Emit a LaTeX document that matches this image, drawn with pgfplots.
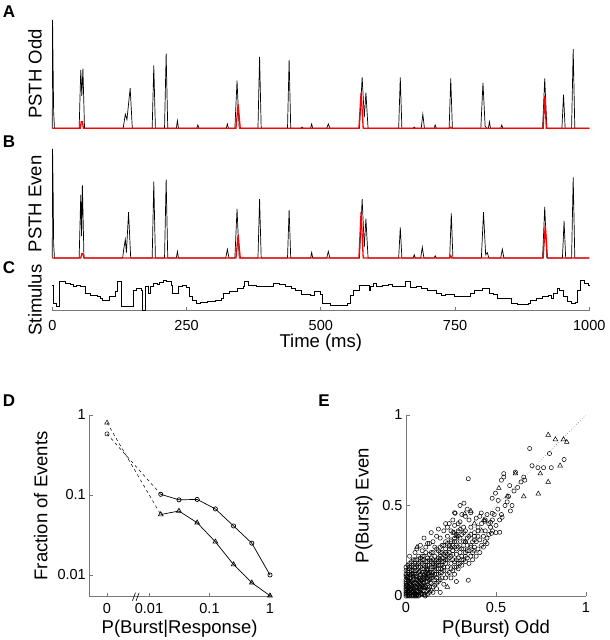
\documentclass[border=0pt]{standalone}
\usepackage{pgfplots}
\pgfplotsset{compat=1.18}
\usepackage{fontspec}
\setmainfont{Liberation Sans}
\definecolor{axgray}{RGB}{120,120,120}
\pgfplotsset{
  every axis/.append style={scale only axis, anchor=south west,
    tick label style={font=\fontsize{14.5}{16}\selectfont},
    label style={font=\fontsize{18.5}{20}\selectfont},
    axis line style={axgray, line width=0.8pt},
    tick style={axgray, line width=0.8pt},
    major tick length=4pt,
    /pgf/number format/assume math mode=true},
}
\begin{document}
\begin{tikzpicture}
\path[use as bounding box] (0,0) rectangle (610pt,640pt);
% ---------- A ----------
\begin{axis}[at={(52.3pt,511.7pt)}, width=537pt, height=108.3pt,
  xmin=0, xmax=1000, ymin=0, ymax=1, hide axis, clip=false]
\addplot[black, line width=0.7pt] coordinates {
(0,0)(0.5,1.0)(1.5,0.56)(2.5,0.15)(4,0)
(50,0)(53,0.54)(55,0.3)(57,0.55)(60,0)
(132,0)(136,0.13)(139,0.08)(145,0.37)(149,0)
(186,0)(189,0.58)(192,0)
(209,0)(212,0.69)(215,0)
(231,0)(233,0.07)(235,0)
(269,0)(271,0.03)(273,0)
(324,0)(326,0.04)(328,0)
(340,0)(344,0.44)(348,0)
(383,0)(386,0.66)(389,0)
(438,0)(441,0.63)(444,0)
(463,0)(465,0.01)(467,0)
(481,0)(483,0.04)(485,0)
(511,0)(514,0.04)(517,0)
(572,0)(577,0.47)(581,0.1)(584,0.33)(588,0)
(645,0)(648,0.47)(651,0)
(672,0)(674,0.01)(676,0)
(687,0)(690,0.13)(693,0)
(711,0)(713,0.03)(715,0)
(739,0)(742,0.46)(745,0)
(798,0)(802,0.42)(806,0.02)(809,0)(812,0)(814,0.06)(816,0)
(835,0)(837,0.03)(839,0)
(913,0)(917,0.46)(921,0)
(949,0)(952,0.31)(955,0)
(967,0)(970,0.73)(973,0)
(1000,0)};
\addplot[red, line width=1.3pt] coordinates {
(0,0)(52,0)(54,0.06)(56,0.06)(58,0)(342,0)(346,0.22)(350,0)(571,0)(575,0.33)(579,0)
(740,0)(742,0.01)(744,0)(914,0)(917,0.3)(920,0)(1000,0)};
\end{axis}
% ---------- B ----------
\begin{axis}[at={(52.3pt,382pt)}, width=537pt, height=109pt,
  xmin=0, xmax=1000, ymin=0, ymax=1, hide axis, clip=false]
\addplot[black, line width=0.7pt] coordinates {
(0,0)(0.5,1.0)(1.5,0.64)(2.5,0.13)(4,0)
(50,0)(53,0.58)(54.5,0.2)(56,0.67)(59,0)
(131,0)(133,0.08)(136,0.17)(138,0.05)(142,0.42)(146,0)
(186,0)(189,0.7)(192,0)
(209,0)(212,0.72)(215,0)
(231,0)(233,0.06)(235,0)
(323,0)(326,0.08)(329,0)
(340,0)(344,0.45)(348,0)
(383,0)(386,0.54)(389,0)
(438,0)(441,0.44)(444,0)
(481,0)(483,0.05)(485,0)
(511,0)(514,0.06)(517,0)
(572,0)(577,0.54)(581,0.1)(584,0.36)(588,0)
(645,0)(648,0.28)(651,0)
(672,0)(674,0.03)(676,0)
(686,0)(689,0.1)(692,0)
(711,0)(713,0.02)(715,0)
(740,0)(743,0.41)(746,0)
(799,0)(803,0.42)(807,0.03)(810,0.05)(813,0)
(835,0)(838,0.08)(841,0)
(913,0)(917,0.47)(921,0)
(950,0)(953,0.34)(956,0)
(967,0)(970,0.74)(973,0)
(1000,0)};
\addplot[red, line width=1.3pt] coordinates {
(0,0)(53,0)(55,0.04)(57,0.04)(59,0)(342,0)(346,0.21)(350,0)(571,0)(575,0.42)(579,0)
(740,0)(742,0.02)(744,0)(914,0)(918,0.3)(922,0)(1000,0)};
\end{axis}
% ---------- C ----------
\begin{axis}[at={(52.3pt,329.3pt)}, width=537pt, height=30.7pt,
  xmin=0, xmax=1000, ymin=0, ymax=92, clip=false,
  axis x line*=bottom, axis y line=none,
  xtick={0,250,500,750,1000}, xticklabels={0,250,500,750,1000},
  xticklabel style={yshift=-6pt},
  xlabel={Time (ms)}, xlabel style={yshift=3pt}]
\addplot[const plot, black, line width=0.6pt] coordinates {
(0,77)(2,22)(7,12)(13,87)(24,82)(33,80)(40,74)(45,77)(52,72)(61,52)(70,47)(83,44)
(89,37)(94,30)(104,32)(107,42)(117,57)(121,87)(129,12)(151,62)(157,67)(165,62)
(168,0)(173,72)(179,52)(183,72)(188,82)(195,80)(199,86)(206,92)(213,87)(221,77)
(224,52)(235,72)(242,75)(250,70)(255,42)(260,32)(268,22)(275,25)(289,27)(304,32)
(315,37)(318,52)(329,57)(344,67)(355,74)(358,87)(365,77)(380,72)(409,74)(412,82)
(423,80)(434,74)(445,67)(452,62)(463,50)(481,47)(488,57)(499,50)(503,22)(517,17)
(550,22)(554,47)(561,62)(572,77)(590,62)(593,74)(597,82)(604,72)(615,77)(626,79)
(633,72)(644,74)(658,87)(666,70)(677,72)(687,67)(698,60)(705,62)(716,52)(724,47)
(731,50)(749,42)(778,52)(785,60)(800,67)(814,52)(821,49)(828,37)(854,22)(865,19)
(886,22)(890,32)(901,37)(912,42)(923,47)(930,37)(933,52)(941,67)(944,62)(952,42)
(959,27)(966,22)(973,25)(977,62)(984,92)(991,82)(999,77)(1000,77)};
\end{axis}
% ---------- D ----------
\begin{axis}[at={(89.3pt,43.3pt)}, width=180.7pt, height=181.7pt,
  xmin=-2.987, xmax=0, ymode=log, ymin=0.00535, ymax=1, clip=false,
  axis x line*=bottom, axis y line*=left,
  xtick={-2.694,-2,-1,0}, xticklabels={0,0.01,0.1,1},
  xticklabel style={yshift=-3pt},
  ytick={0.01,0.1,1}, yticklabels={0.01,0.1,1}, minor tick num=0,
  log basis y=10, ylabel shift=3pt,
  xlabel={P(Burst\textbar Response)}, ylabel={Fraction of Events}]
\addplot[black, dashed, line width=0.5pt] coordinates {(-2.694,0.58)(-1.806,0.102)};
\addplot[black, dashed, line width=0.5pt] coordinates {(-2.694,0.80)(-1.806,0.057)};
\addplot[black, line width=0.7pt, mark=o, mark size=2.1pt, mark options={solid}] coordinates {
(-1.806,0.102)(-1.505,0.087)(-1.204,0.088)(-0.903,0.067)(-0.602,0.041)(-0.301,0.025)(0,0.010)};
\addplot[black, line width=0.7pt, mark=triangle, mark size=2.7pt, mark options={solid}] coordinates {
(-1.806,0.057)(-1.505,0.063)(-1.204,0.045)(-0.903,0.026)(-0.602,0.0135)(-0.301,0.0080)(0,0.0055)};
\addplot[only marks, mark=o, mark size=2.1pt, black, line width=0.5pt] coordinates {(-2.694,0.58)};
\addplot[only marks, mark=triangle, mark size=2.7pt, black, line width=0.5pt] coordinates {(-2.694,0.80)};
\draw[black, line width=0.6pt] (axis cs:-2.24,0.00535) ++(-2pt,-4pt) -- ++(3pt,8pt);
\draw[black, line width=0.6pt] (axis cs:-2.18,0.00535) ++(-2pt,-4pt) -- ++(3pt,8pt);
\end{axis}
% ---------- E ----------
\begin{axis}[at={(406pt,44pt)}, width=180pt, height=181pt,
  xmin=0, xmax=1, ymin=0, ymax=1, clip=false,
  axis x line*=bottom, axis y line*=left,
  xtick={0,0.5,1}, xticklabels={0,0.5,1}, ytick={0,0.5,1}, yticklabels={0,0.5,1},
  xticklabel style={yshift=-3pt}, ylabel shift=3pt,
  xlabel={P(Burst) Odd}, ylabel={P(Burst) Even}]
\addplot[axgray, dotted, line width=0.6pt] coordinates {(0,0)(1,1)};
\addplot[only marks, mark=o, mark size=2.1pt, black, line width=0.5pt] table {
x y
0 0
0.01 0
0.02 0.01
0 0.02
0.03 0.02
0.01 0.03
0.04 0
0.05 0.03
0.02 0.05
0 0.05
0.06 0.01
0.03 0.06
0.07 0.04
0.05 0.07
0.01 0.08
0.08 0.02
0.09 0.06
0.06 0.09
0.02 0.1
0.1 0.03
0.04 0.11
0.11 0.08
0.08 0.12
0 0.12
0.12 0.01
0.03 0.14
0.13 0.05
0.07 0.13
0.14 0.1
0.1 0.15
0.05 0.16
0.15 0.02
0.16 0.12
0.12 0.17
0.09 0.18
0.17 0.07
0.18 0.15
0.14 0.19
0.02 0.15
0.01 0.13
0 0.09
0.04 0.09
0.06 0.05
0.08 0.07
0.11 0.11
0.13 0.13
0.15 0.16
0.17 0.18
0.19 0.2
0.2 0.17
0.21 0.23
0.19 0.24
0.23 0.2
0.22 0.26
0.25 0.22
0.24 0.28
0.26 0.25
0.28 0.23
0.27 0.3
0.29 0.27
0.3 0.32
0.31 0.26
0.25 0.31
0.33 0.3
0.32 0.35
0.35 0.33
0.34 0.28
0.36 0.38
0.37 0.3
0.28 0.34
0.22 0.3
0.2 0.28
0.18 0.25
0.16 0.22
0.14 0.24
0.12 0.21
0.1 0.2
0.08 0.19
0.06 0.17
0.07 0.22
0.09 0.25
0.05 0.2
0.04 0.14
0.11 0.27
0.13 0.29
0.15 0.3
0.17 0.33
0.19 0.32
0.21 0.36
0.23 0.38
0.25 0.36
0.27 0.39
0.29 0.4
0.24 0.4
0.3 0.41
0.32 0.38
0.26 0.35
0.2 0.21
0.21 0.14
0.23 0.16
0.22 0.1
0.24 0.13
0.25 0.18
0.26 0.14
0.27 0.19
0.28 0.16
0.29 0.21
0.3 0.18
0.31 0.22
0.32 0.2
0.33 0.24
0.34 0.21
0.35 0.25
0.36 0.22
0.38 0.27
0.37 0.24
0.39 0.3
0.4 0.26
0.41 0.31
0.42 0.28
0.43 0.33
0.44 0.36
0.45 0.32
0.38 0.35
0.4 0.38
0.42 0.4
0.46 0.4
0.47 0.38
0.48 0.42
0.44 0.42
0.45 0.45
0.41 0.44
0.39 0.43
0.35 0.42
0.33 0.44
0.31 0.45
0.3 0.5
0.27 0.46
0.34 0.48
0.36 0.46
0.18 0.12
0.19 0.09
0.16 0.06
0.14 0.03
0.17 0.04
0.12 0.08
0.1 0.1
0.09 0.13
0.07 0.1
0.05 0.12
0.03 0.08
0.02 0.03
0.01 0.06
0.04 0.04
0.06 0.03
0.09 0.01
0.11 0.05
0.13 0.09
0.15 0.13
0.01 0.01
0 0.03
0.03 0
0.02 0.07
0.07 0.02
0.05 0.05
0.08 0.04
0.04 0.07
0.12 0.15
0.16 0.19
0.18 0.21
0.2 0.24
0.22 0.22
0.24 0.24
0.26 0.28
0.28 0.3
0.02 0.18
0.03 0.12
0.01 0.1
0 0.07
0.06 0.14
0.08 0.16
0.1 0.17
0.09 0.22
0.11 0.19
0.13 0.2
0.15 0.2
0.17 0.15
0.19 0.17
0.2 0.13
0.25 0.1
0.27 0.12
0.29 0.15
0.31 0.17
0.33 0.19
0.35 0.18
0.37 0.2
0.39 0.22
0.41 0.24
0.43 0.27
0.45 0.29
0.46 0.34
0.48 0.36
0.5 0.39
0.52 0.42
0.49 0.45
0.51 0.48
0.687 0.815
0.797 0.787
0.878 0.754
0.764 0.709
0.807 0.709
0.733 0.709
0.346 0.648
0.543 0.676
0.608 0.685
0.654 0.657
0.639 0.63
0.543 0.657
0.53 0.64
0.576 0.61
0.497 0.568
0.479 0.54
0.562 0.52
0.589 0.50
0.58 0.47
0.534 0.435
0.521 0.352
0.512 0.528
0.322 0.513
0.273 0.457
0.418 0.459
0.479 0.457
0.47 0.407
0.438 0.413
0.475 0.346
0.346 0.087
0.28 0.08
0.107 0.0
0.19 0.02
0.21 0.065
0.12 0.29
0.06 0.26
0.04 0.2
0.02 0.22
0.08 0.28
0.16 0.27
0.1 0.32
0.14 0.35
0.18 0.37
0.22 0.4
0.26 0.42
0.29 0.36
0.05 0.24
0.23 0.33
0.27 0.27
0.36 0.28
0.4 0.33
0.44 0.3
0.5 0.35
0.53 0.45
0.55 0.5
0.57 0.55
0.6 0.58
0.62 0.6
0.66 0.64
0.7 0.72
0.005 0.015
0.015 0.005
0.025 0.035
0.035 0.025
0.045 0.015
0.015 0.045
0.055 0.045
0.045 0.055
0.065 0.025
0.025 0.065
0.075 0.055
0.055 0.075
0.085 0.035
0.035 0.085
0.095 0.075
0.075 0.095
0.105 0.055
0.055 0.105
0.115 0.095
0.095 0.115
0.125 0.035
0.035 0.125
0.135 0.075
0.075 0.135
0.145 0.115
0.115 0.145
0.005 0.055
0.055 0.005
0.015 0.085
0.085 0.015
0.005 0.105
0.105 0.005
0.025 0.115
0.115 0.025
0.045 0.095
0.095 0.045
0.065 0.065
0.085 0.085
0.105 0.105
0.125 0.125
0.01 0.04
0.04 0.01
0.02 0.02
0.03 0.05
0.05 0.01
0.06 0.07
0.07 0.06
0.08 0.05
0.09 0.09
0.1 0.07
0.12 0.1
0.13 0.11
0.14 0.13
0.16 0.14
0.17 0.12
0.18 0.17
0.16 0.16
0.14 0.16
0.12 0.12
0.11 0.13
0.1 0.12
0.08 0.1
0.07 0.08
0.06 0.11
0.04 0.12
0.02 0.12
0.01 0.14
0 0.14
0.03 0.16
0.05 0.14
0.07 0.16
0.09 0.15
0.11 0.16
0.13 0.17
0.15 0.18
0.17 0.2
0.19 0.22
0.21 0.19
0.23 0.23
0.22 0.18
0.2 0.19
0.18 0.19
0.16 0.17
0.14 0.21
0.12 0.19
0.1 0.22
0.08 0.21
0.06 0.2
0.04 0.17
0.02 0.16
0.13 0.23
0.15 0.24
0.17 0.26
0.19 0.27
0.21 0.28
0.23 0.29
0.25 0.3
0.27 0.32
0.29 0.33
0.31 0.34
0.33 0.36
0.24 0.21
0.26 0.2
0.28 0.2
0.3 0.24
0.32 0.26
0.34 0.25
0.36 0.27
0.38 0.31
0.2 0.1
0.18 0.08
0.16 0.09
0.14 0.07
0.12 0.05
0.1 0.01
0.13 0.02
0.15 0.05
0.17 0.1
0.19 0.13
0.21 0.16
0.23 0.12
0.25 0.15
0.27 0.16
0.29 0.18
0.31 0.2
0.33 0.22
0.22 0.24
0.24 0.26
0.26 0.23
0.28 0.26
0.3 0.28
0.32 0.3
0.34 0.32
0.36 0.34
0.38 0.33
0.4 0.36
0.11 0.24
0.09 0.2
0.07 0.18
0.05 0.18
0.03 0.19
0.01 0.17
0 0.16
0 0.11
0 0.01
0 0.04
0 0.06
0 0.08
0.01 0.11
0.01 0.02
0.02 0
0.05 0
0.07 0
0.08 0.01
0.06 0
};
\addplot[only marks, mark=triangle, mark size=2.7pt, black, line width=0.5pt] table {
x y
0.79 0.89
0.83 0.865
0.875 0.865
0.893 0.85
0.856 0.72
0.746 0.676
0.79 0.63
0.735 0.565
0.654 0.55
0.608 0.676
0.516 0.596
0.562 0.55
0.36 0.47
0.326 0.454
0.061 0.27
0.23 0.05
0.378 0.25
0.433 0.42
0.267 0.35
0.05 0.02
0.1 0.05
0.02 0.08
0.15 0.1
0.2 0.15
0.28 0.33
0.3 0.37
0.33 0.3
0.38 0.4
0.42 0.36
0.25 0.27
0.22 0.2
0.12 0.14
0.03 0.04
0.08 0.09
};
\end{axis}
% ---------- labels ----------
\node[rotate=90, font=\fontsize{18.5}{20}\selectfont] at (35pt,566pt) {PSTH Odd};
\node[rotate=90, font=\fontsize{18.5}{20}\selectfont] at (35pt,436pt) {PSTH Even};
\node[rotate=90, font=\fontsize{18.5}{20}\selectfont] at (35pt,340pt) {Stimulus};
\node[font=\bfseries\fontsize{17}{19}\selectfont] at (9pt,628pt) {A};
\node[font=\bfseries\fontsize{17}{19}\selectfont] at (9pt,498pt) {B};
\node[font=\bfseries\fontsize{17}{19}\selectfont] at (9pt,372pt) {C};
\node[font=\bfseries\fontsize{17}{19}\selectfont] at (9pt,239pt) {D};
\node[font=\bfseries\fontsize{17}{19}\selectfont] at (324pt,239pt) {E};
\end{tikzpicture}
\end{document}
